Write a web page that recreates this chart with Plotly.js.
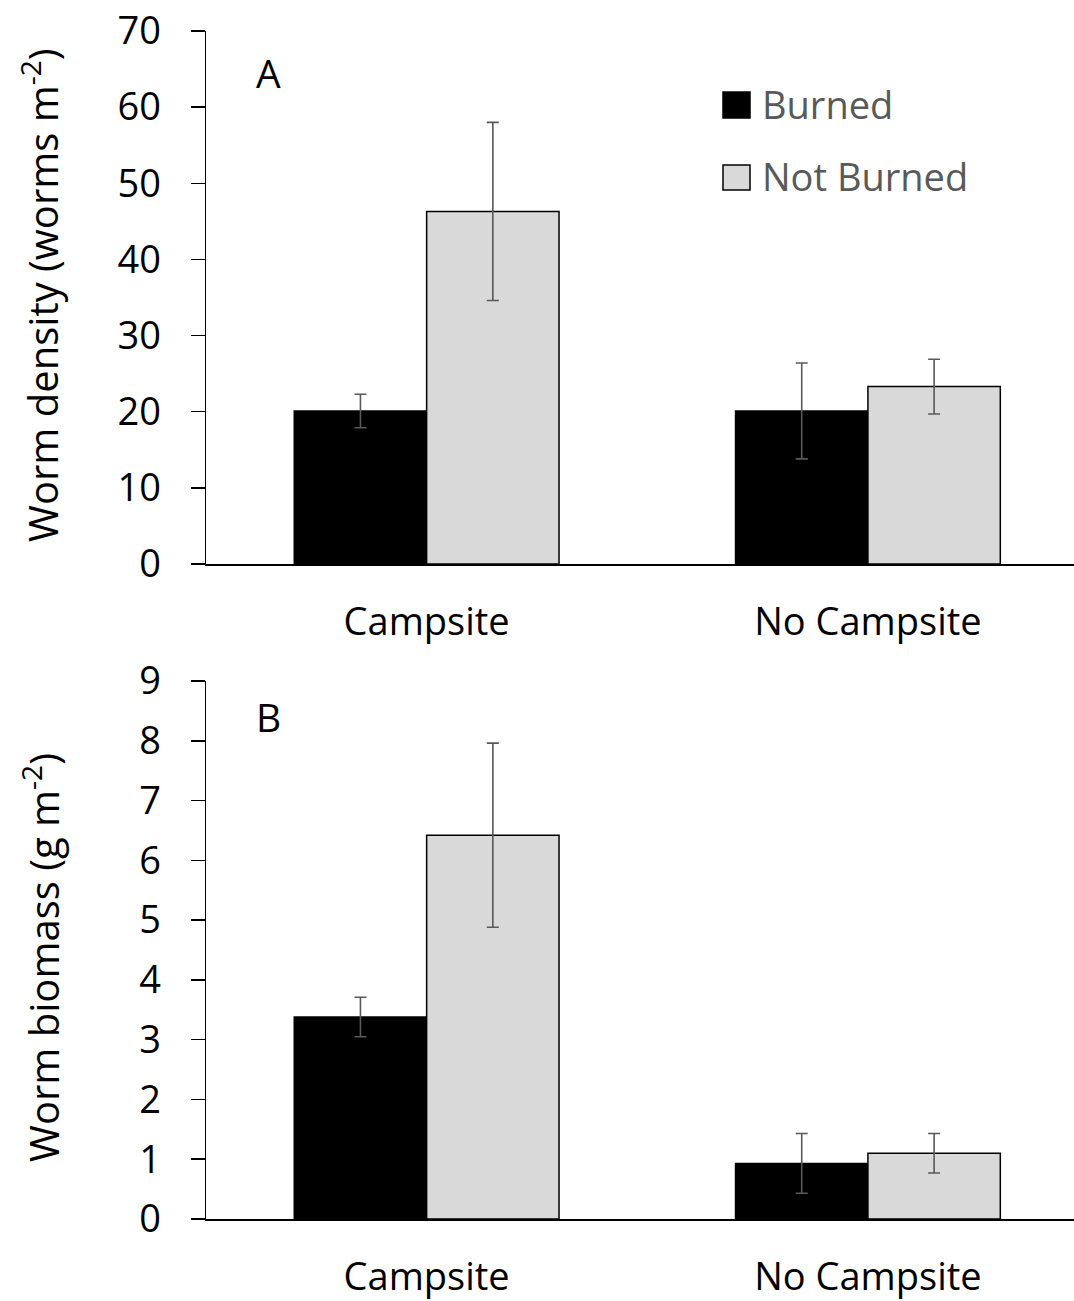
<!DOCTYPE html>
<html>
<head>
<meta charset="utf-8">
<script src="https://cdn.plot.ly/plotly-3.0.1.min.js"></script>
<style>html,body{margin:0;padding:0;background:#fff;}#chart{width:1074px;height:1301px;}</style>
</head>
<body>
<div id="chart"></div>
<script>
// ---- data ----
const categories = ['Campsite', 'No Campsite'];
const seriesNames = ['Burned', 'Not Burned'];
const densityBurned = [20.1, 20.1];
const densityBurnedErr = [2.2, 6.3];
const densityNotBurned = [46.3, 23.3];
const densityNotBurnedErr = [11.7, 3.6];
const biomassBurned = [3.38, 0.93];
const biomassBurnedErr = [0.33, 0.5];
const biomassNotBurned = [6.42, 1.1];
const biomassNotBurnedErr = [1.54, 0.33];
const densityTicks = [0, 10, 20, 30, 40, 50, 60, 70];
const biomassTicks = [0, 1, 2, 3, 4, 5, 6, 7, 8, 9];

// ---- styling ----
const W = 1074, H = 1301;
const FONT = 'Open Sans, Noto Sans, sans-serif';
const fills = ['#000000', '#d9d9d9'];
const errColor = '#595959';
const px = x => x / W;
const py = y => 1 - y / H;

function bar(x, y, err, i, xa, ya) {
  return {
    type: 'bar', x: x, y: y, name: seriesNames[i], xaxis: xa, yaxis: ya,
    marker: {color: fills[i], line: {color: '#000', width: 1.5}},
    error_y: {type: 'data', array: err, visible: true, color: errColor, thickness: 1.6, width: 6},
    showlegend: false, hoverinfo: 'skip'
  };
}

const data = [
  bar(categories, densityBurned, densityBurnedErr, 0, 'x', 'y'),
  bar(categories, densityNotBurned, densityNotBurnedErr, 1, 'x', 'y'),
  bar(categories, biomassBurned, biomassBurnedErr, 0, 'x2', 'y2'),
  bar(categories, biomassNotBurned, biomassNotBurnedErr, 1, 'x2', 'y2')
];

const xCommon = {
  type: 'category', range: [-0.5, 1.467], showline: true, linecolor: '#000', linewidth: 2,
  ticks: '', showgrid: false, zeroline: false, fixedrange: true,
  tickfont: {family: FONT, size: 38, color: '#000'}, ticklabelstandoff: 23
};
const yCommon = {
  showline: true, linecolor: '#000', linewidth: 1.5, ticks: 'outside', ticklen: 14, tickwidth: 1.5,
  tickcolor: '#000', showgrid: false, zeroline: false, fixedrange: true,
  tickfont: {family: FONT, size: 38, color: '#000'}, ticklabelstandoff: 22
};

const layout = {
  width: W, height: H,
  margin: {l: 0, r: 0, t: 0, b: 0},
  paper_bgcolor: '#fff', plot_bgcolor: '#fff',
  barmode: 'group', bargap: 0.4, bargroupgap: 0,
  showlegend: false,
  xaxis: Object.assign({}, xCommon, {domain: [px(206), 1], anchor: 'y'}),
  yaxis: Object.assign({}, yCommon, {domain: [py(564), py(31)], range: [0, 70], tickvals: densityTicks, anchor: 'x'}),
  xaxis2: Object.assign({}, xCommon, {domain: [px(206), 1], anchor: 'y2'}),
  yaxis2: Object.assign({}, yCommon, {domain: [py(1219), py(681)], range: [0, 9], tickvals: biomassTicks, anchor: 'x2'}),
  shapes: [
    {type: 'rect', xref: 'paper', yref: 'paper', x0: px(723), x1: px(750), y0: py(118), y1: py(92),
     fillcolor: fills[0], line: {color: '#000', width: 1.5}},
    {type: 'rect', xref: 'paper', yref: 'paper', x0: px(723), x1: px(750), y0: py(190), y1: py(165),
     fillcolor: fills[1], line: {color: '#000', width: 1.5}}
  ],
  annotations: [
    {text: seriesNames[0], xref: 'paper', yref: 'paper', x: px(760), y: py(104), xanchor: 'left', yanchor: 'middle',
     showarrow: false, font: {family: FONT, size: 38, color: '#595959'}},
    {text: seriesNames[1], xref: 'paper', yref: 'paper', x: px(760), y: py(176), xanchor: 'left', yanchor: 'middle',
     showarrow: false, font: {family: FONT, size: 38, color: '#595959'}},
    {text: 'A', xref: 'paper', yref: 'paper', x: px(268), y: py(72), xanchor: 'center', yanchor: 'middle',
     showarrow: false, font: {family: FONT, size: 39, color: '#000'}},
    {text: 'B', xref: 'paper', yref: 'paper', x: px(268), y: py(716), xanchor: 'center', yanchor: 'middle',
     showarrow: false, font: {family: FONT, size: 39, color: '#000'}},
    {text: 'Worm density (worms m<sup>-2</sup>)', xref: 'paper', yref: 'paper', x: px(41), y: py(295),
     xanchor: 'center', yanchor: 'middle', textangle: -90, showarrow: false,
     font: {family: FONT, size: 40, color: '#000'}},
    {text: 'Worm biomass (g m<sup>-2</sup>)', xref: 'paper', yref: 'paper', x: px(41), y: py(958),
     xanchor: 'center', yanchor: 'middle', textangle: -90, showarrow: false,
     font: {family: FONT, size: 40, color: '#000'}}
  ]
};

Plotly.newPlot('chart', data, layout, {displayModeBar: false, staticPlot: true});
</script>
</body>
</html>
